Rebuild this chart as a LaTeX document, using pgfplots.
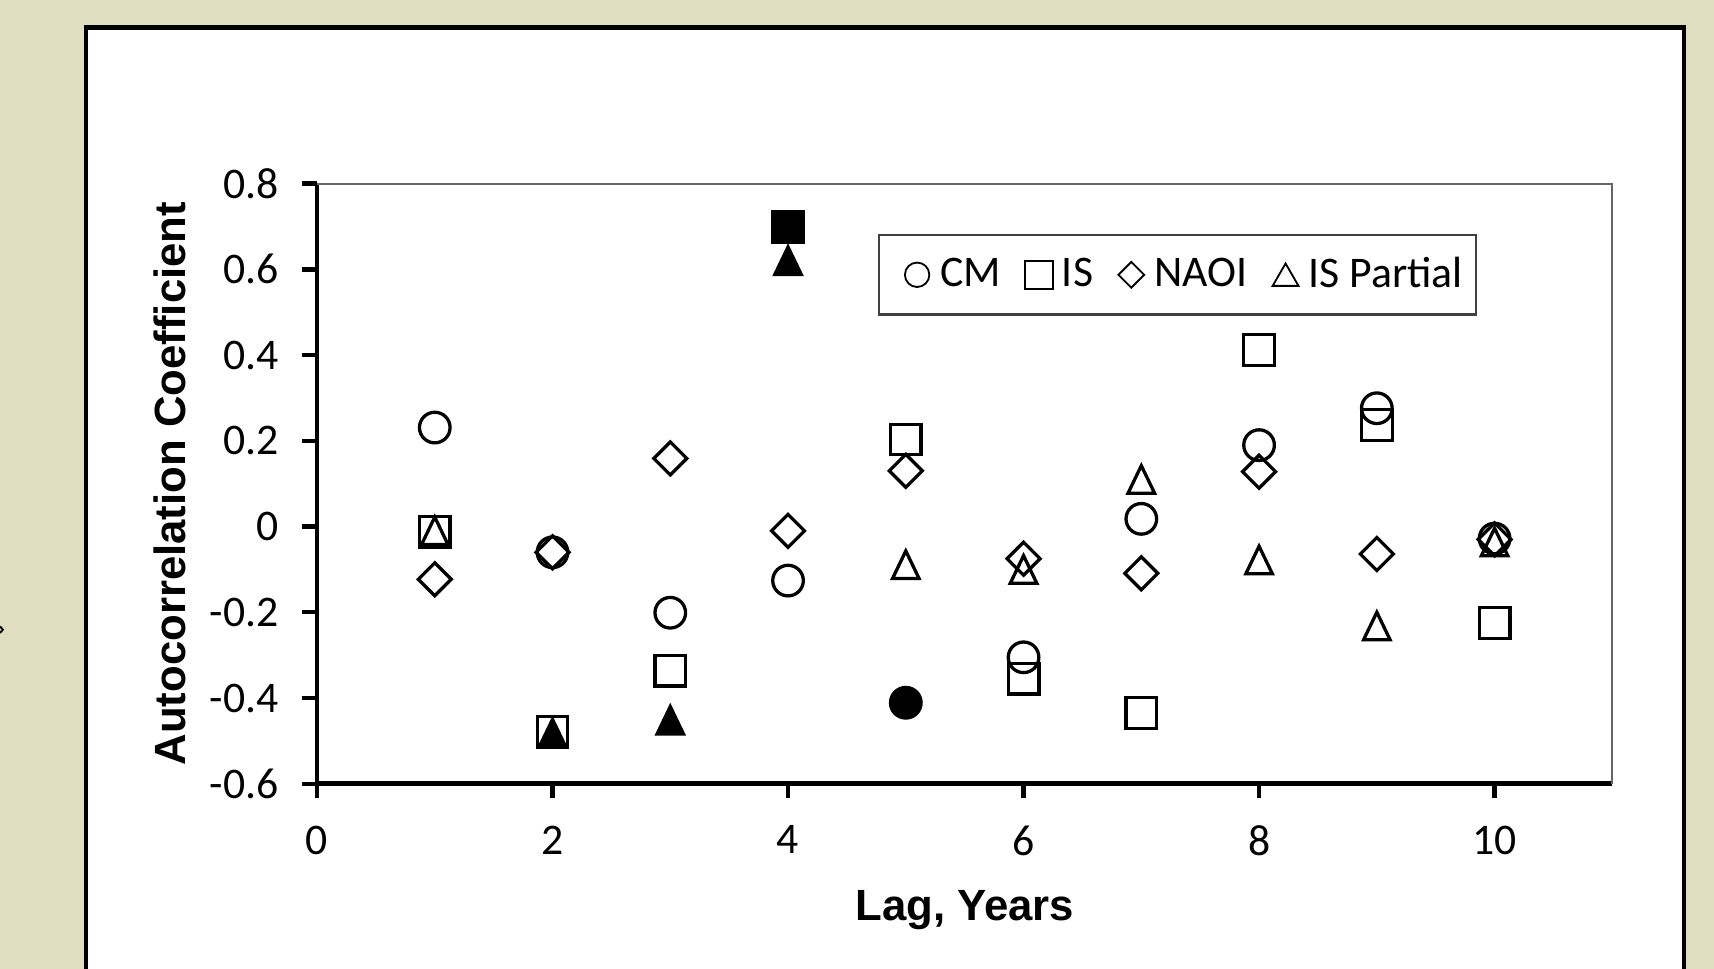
\documentclass[border=0pt]{standalone}
\usepackage{pgfplots}
\pgfplotsset{compat=1.18}
\usepackage{fontspec}
\setmainfont{Carlito}
\newfontfamily\arialfont{Liberation Sans}
\definecolor{bgbeige}{RGB}{223,222,193}
\pgfplotsset{
  mylegimg/.style={legend image code/.code={\path[draw=none,fill=none] (0pt,0pt) -- (13.2pt,0pt);\draw[##1] plot coordinates {(6.9pt,0pt)};}},
}
\begin{document}
\begin{tikzpicture}
\fill[bgbeige] (-87pt,-50.7pt) rectangle (383.4pt,215.1pt);
\begin{scope}
\clip (-87pt,-50.7pt) rectangle (383.4pt,215.1pt);
\draw[fill=white, line width=1.2pt] (-63.36pt,-70pt) rectangle (375.18pt,207.54pt);
\draw[line width=0.5pt] (-87pt,43.2pt)--(-86.2pt,42.3pt)--(-87pt,41.4pt);
\end{scope}
\begin{axis}[
  at={(0pt,0pt)}, anchor=south west,
  scale only axis, width=355.5pt, height=164.7pt,
  xmin=0, xmax=11, ymin=-0.6, ymax=0.8,
  xtick={0,2,4,6,8,10},
  xticklabels={0,2,4,6,8,10},
  ytick={-0.6,-0.4,-0.2,0,0.2,0.4,0.6,0.8},
  yticklabels={-0.6,-0.4,-0.2,0,0.2,0.4,0.6,0.8},
  minor tick num=0,
  separate axis lines,
  axis x line*=bottom, axis y line*=left,
  x axis line style={-, line width=1.3pt, black},
  y axis line style={-, line width=1.3pt, black},
  tick align=outside,
  major tick length=4pt,
  tick style={line width=1.2pt, black},
  tick label style={font=\fontsize{12}{14}\selectfont, text=black},
  xticklabel style={yshift=-4pt},
  yticklabel style={xshift=-3pt},
  xlabel={Lag, Years}, ylabel={Autocorrelation Coefficient},
  every axis x label/.style={at={(axis description cs:0.5,-0.2277)}, anchor=base, font=\arialfont\bfseries\fontsize{12}{14}\selectfont},
  every axis y label/.style={at={(axis description cs:-0.1139,0.5)}, rotate=90, anchor=center, font=\arialfont\bfseries\fontsize{12}{14}\selectfont},
  clip=false,
  legend columns=4,
  legend style={at={(axis description cs:0.4329,0.9162)}, anchor=north west, draw=black!75, line width=0.6pt, fill=white, font=\fontsize{12}{14}\selectfont, inner xsep=3.6pt, inner ysep=4pt, nodes={inner xsep=0pt, inner ysep=2pt}, /tikz/every even column/.append style={column sep=3.6pt}},
]
\draw[black!60, line width=0.5pt] (rel axis cs:0,1) -- (rel axis cs:1,1) -- (rel axis cs:1,0);

% CM
\addplot[black, only marks, mark=o, mark size=4.2pt, line width=0.9pt, forget plot] coordinates {(1,0.231)(2,-0.060)(3,-0.201)(4,-0.126)(6,-0.305)(7,0.018)(8,0.190)(9,0.276)(10,-0.028)};
\addplot[black, only marks, mark=*, mark size=4.2pt, line width=0.9pt, forget plot] coordinates {(5,-0.411)};
% IS
\addplot[black, only marks, mark=square, mark size=4.2pt, line width=0.9pt, forget plot] coordinates {(1,-0.012)(2,-0.479)(3,-0.336)(5,0.203)(6,-0.355)(7,-0.435)(8,0.412)(9,0.237)(10,-0.225)};
\addplot[black, only marks, mark=square*, mark size=4.2pt, line width=0.9pt, forget plot] coordinates {(4,0.698)};
% NAOI
\addplot[black, only marks, mark=square, mark options={rotate=45}, mark size=3.2pt, line width=0.9pt, forget plot] coordinates {(1,-0.123)(2,-0.060)(3,0.159)(4,-0.010)(5,0.130)(6,-0.075)(7,-0.109)(8,0.128)(9,-0.064)(10,-0.030)};
% IS Partial
\addplot[black, only marks, mark=triangle, mark options={yshift=-1.26pt, yscale=1.2}, mark size=4.2pt, line width=0.9pt, forget plot] coordinates {(1,-0.010)(5,-0.089)(6,-0.100)(7,0.110)(8,-0.078)(9,-0.232)(10,-0.036)};
\addplot[black, only marks, mark=triangle*, mark options={yshift=-1.26pt, yscale=1.2}, mark size=4.2pt, line width=0.9pt, forget plot] coordinates {(2,-0.482)(3,-0.452)(4,0.620)};

\addlegendimage{mylegimg, black, mark=o, mark size=3.35pt, line width=0.5pt}
\addlegendentry{CM}
\addlegendimage{mylegimg, black, mark=square, mark size=3.8pt, line width=0.5pt}
\addlegendentry{IS}
\addlegendimage{mylegimg, black, mark=square, mark options={rotate=45}, mark size=2.5pt, line width=0.5pt}
\addlegendentry{NAOI}
\addlegendimage{mylegimg, black, mark=triangle, mark options={yshift=-1pt}, mark size=4.1pt, line width=0.5pt}
\addlegendentry{IS Partial}
\end{axis}
\pgfresetboundingbox
\path[use as bounding box] (-87pt,-50.7pt) rectangle (383.4pt,215.1pt);
\end{tikzpicture}
\end{document}
